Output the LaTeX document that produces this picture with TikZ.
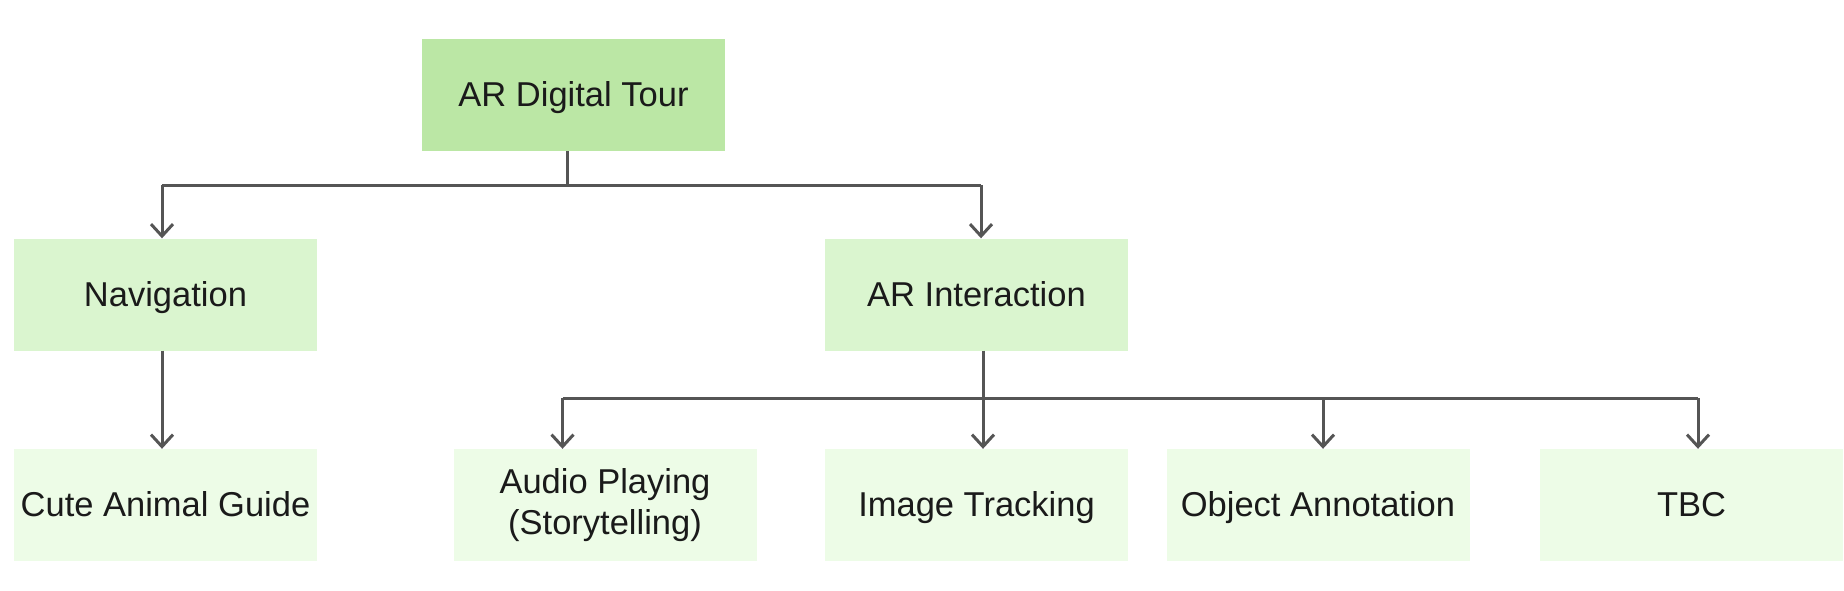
\documentclass[tikz,border=0pt]{standalone}
\usepackage{fontspec}
\setmainfont{Liberation Sans}
\usetikzlibrary{arrows.meta}
\definecolor{rootc}{HTML}{BBE7A5}
\definecolor{midc}{HTML}{DAF5CF}
\definecolor{leafc}{HTML}{EDFCE7}
\definecolor{linec}{HTML}{555555}
\definecolor{txtc}{HTML}{1A1A1A}
\tikzset{
  box/.style={rectangle, minimum width=303pt, minimum height=112pt, inner sep=0pt,
    align=center, text=txtc, font=\fontsize{34.5}{41}\selectfont,
    text height=23pt, text depth=0pt},
  rootbox/.style={box, fill=rootc},
  midbox/.style={box, fill=midc},
  leafbox/.style={box, fill=leafc},
  conn/.style={draw=linec, line width=3pt},
  arr/.style={conn, -{Straight Barb[length=12pt, width=22pt]}},
}
\begin{document}
\begin{tikzpicture}[x=1pt, y=-1pt]
\useasboundingbox (0,0) rectangle (1844,590);
\node[rootbox] (root) at (573.5,95) {AR Digital Tour};
\node[midbox] (nav) at (165.5,294.5) {Navigation};
\node[midbox] (ari) at (976.5,294.5) {AR Interaction};
\node[leafbox] (cute) at (165.5,505) {Cute Animal Guide};
\node[leafbox, text height={}, text depth={}] (audio) at (605,505) {Audio Playing\\(Storytelling)};
\node[leafbox] (img) at (976.5,505) {Image Tracking};
\node[leafbox] (obj) at (1318,505) {Object Annotation};
\node[leafbox] (tbc) at (1691.5,505) {TBC};
% level 1 bus
\coordinate (j1) at (567,185);
\coordinate (b1l) at (162,185);
\coordinate (b1r) at (981,185);
\draw[conn] (root.south -| j1) -- (j1);
\draw[conn] (b1l) -- (b1r);
\draw[arr] (b1l) -- (b1l |- nav.north);
\draw[arr] (b1r) -- (b1r |- ari.north);
% navigation to cute
\coordinate (n1) at (162,351);
\draw[arr] (nav.south -| n1) -- (n1 |- cute.north);
% level 2 bus
\coordinate (j2) at (983,398);
\coordinate (b2a) at (562.5,398);
\coordinate (b2b) at (983,398);
\coordinate (b2c) at (1323,398);
\coordinate (b2d) at (1698,398);
\draw[conn] (ari.south -| j2) -- (j2);
\draw[conn] (b2a) -- (b2d);
\draw[arr] (b2a) -- (b2a |- audio.north);
\draw[arr] (b2b) -- (b2b |- img.north);
\draw[arr] (b2c) -- (b2c |- obj.north);
\draw[arr] (b2d) -- (b2d |- tbc.north);
\end{tikzpicture}
\end{document}
